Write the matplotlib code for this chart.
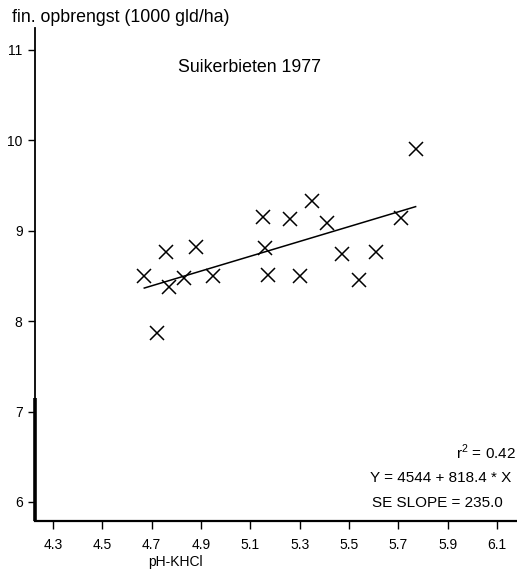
import matplotlib
matplotlib.use("Agg")
import matplotlib.pyplot as plt

plt.rcParams['font.family'] = ['Liberation Sans', 'DejaVu Sans']

# pH-KHCl and fin. opbrengst (1000 gld/ha)
ph = [4.67, 4.76, 4.88, 4.77, 4.83, 4.95, 4.72, 5.15, 5.16, 5.17,
      5.26, 5.30, 5.35, 5.41, 5.47, 5.54, 5.61, 5.71, 5.77]
opbrengst = [8.50, 8.76, 8.82, 8.38, 8.48, 8.50, 7.87, 9.15, 8.81, 8.51,
             9.13, 8.50, 9.33, 9.09, 8.74, 8.46, 8.77, 9.14, 9.90]

# regression Y = 4544 + 818.4 * X (gld/ha)
intercept = 4544
slope = 818.4

xticks = [4.3, 4.5, 4.7, 4.9, 5.1, 5.3, 5.5, 5.7, 5.9, 6.1]
yticks = [6, 7, 8, 9, 10, 11]

fig = plt.figure(figsize=(5.17, 5.69), dpi=100)
ax = fig.add_axes([0.0677, 0.0844, 0.9323, 0.8666])

ax.plot(ph, opbrengst, linestyle='none', marker='x', markersize=9.5,
        markeredgewidth=1.1, color='black')

x0, x1 = min(ph), max(ph)
ax.plot([x0, x1], [(intercept + slope * x0) / 1000, (intercept + slope * x1) / 1000],
        color='black', linewidth=1.1)

ax.set_xlim(4.227, 6.181)
ax.set_ylim(5.79, 11.243)
ax.set_xticks(xticks)
ax.set_xticklabels([f"{v:.1f}" for v in xticks])
ax.set_yticks(yticks)
ax.tick_params(axis='both', direction='out', labelsize=10, width=1, colors='black')
ax.tick_params(axis='x', length=6, pad=6)
ax.tick_params(axis='y', length=5, pad=4)

for s in ['top', 'right']:
    ax.spines[s].set_visible(False)
ax.spines['left'].set_linewidth(1.3)
ax.spines['bottom'].set_linewidth(1.6)

# thicker lower part of the y axis in the scan
ax.plot([0, 0], [5.79, 7.15], transform=ax.get_yaxis_transform(),
        color='black', linewidth=2.6, clip_on=False, solid_capstyle='butt')

fig.text(12 / 517, 1 - 17 / 569, "fin. opbrengst (1000 gld/ha)", fontsize=12.8,
         ha='left', va='center')
fig.text(250 / 517, 1 - 67 / 569, "Suikerbieten 1977", fontsize=12.8,
         ha='center', va='center')
fig.text(175 / 517, 1 - 562 / 569, "pH-KHCl", fontsize=10, ha='center', va='center')

fig.text(516 / 517, 1 - 452 / 569, "r$^{\\mathregular{2}}$ = 0.42", fontsize=11,
         ha='right', va='center')
fig.text(370 / 517, 1 - 478 / 569, "Y = 4544 + 818.4 * X", fontsize=11,
         ha='left', va='center')
fig.text(372 / 517, 1 - 503 / 569, "SE SLOPE = 235.0", fontsize=11,
         ha='left', va='center')

fig.savefig("out.png", dpi=100)
